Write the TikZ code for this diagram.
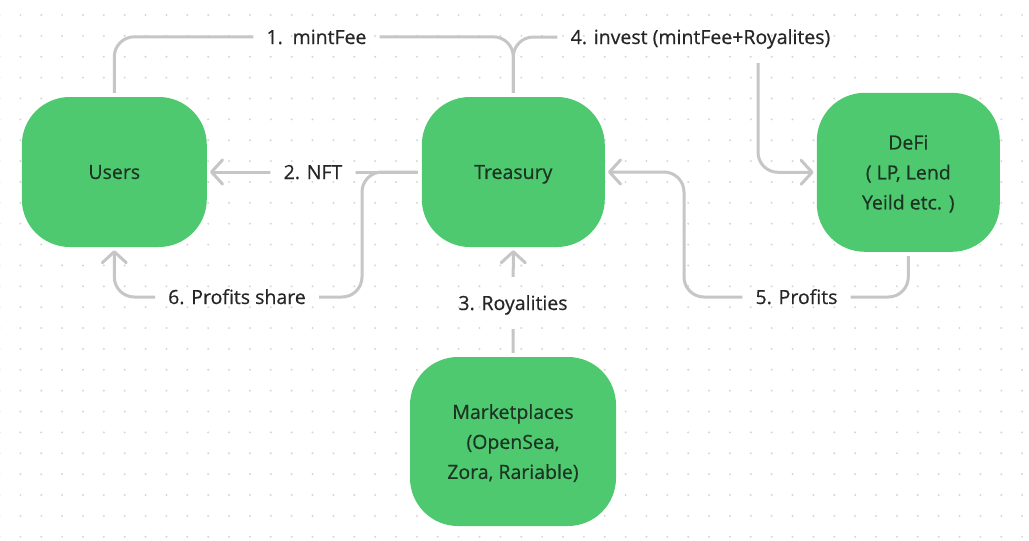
\documentclass[tikz,border=0pt]{standalone}
\usepackage{fontspec}
\setmainfont{Open Sans}
\newfontfamily\medfont{Open Sans}[FakeBold=0.5]
\usetikzlibrary{arrows.meta}
\definecolor{nodegreen}{HTML}{4FC970}
\definecolor{nodetext}{HTML}{1C3422}
\definecolor{lblc}{HTML}{262626}
\definecolor{linec}{HTML}{C6C6C6}
\definecolor{dotc}{HTML}{D6D6D6}
\tikzset{
  box/.style={fill=nodegreen, rounded corners=48pt, text=nodetext, align=center,
    font=\medfont\fontsize{19.5}{30}\selectfont, inner sep=0pt, text depth=0pt},
  lbl/.style={text=lblc, font=\medfont\fontsize{19.5}{24}\selectfont, inner xsep=13pt,
    inner ysep=17pt, text height=16pt, text depth=2pt},
  conn/.style={draw=linec, line width=3pt, rounded corners=20pt},
  tip/.style={-{Straight Barb[length=11pt,width=24pt,round]}},
}
\begin{document}
\begin{tikzpicture}[x=1pt,y=-1pt]
\useasboundingbox (0,0) rectangle (1029,541);
\fill[white] (0,0) rectangle (1029,541);
% dot grid
\foreach \i in {0,...,49}{
  \foreach \j in {0,...,25}{
    \fill[dotc] ({-0.5+20.87*\i},{15+20.87*\j}) circle (1.1pt);
  }
}
% nodes
\node[box, minimum width=185pt, minimum height=150pt] (users) at (114.3,172) {Users};
\node[box, minimum width=183pt, minimum height=150pt] (treasury) at (513.3,172) {Treasury};
\node[box, minimum width=183pt, minimum height=159pt] (defi) at (908.3,172.3) {DeFi\\( LP, Lend\\Yeild etc. )};
\node[box, minimum width=206pt, minimum height=169pt] (market) at (513,441.5) {Marketplaces\\(OpenSea,\\Zora, Rariable)};
% labels
\node[lbl] (l1) at (316.5,37) {1.\hspace{0.5em}mintFee};
\node[lbl] (l2) at (313,172) {2. NFT};
\node[lbl] (l3) at (513,303) {3. Royalities};
\node[lbl] (l4) at (700.5,37) {4. invest (mintFee+Royalites)};
\node[lbl] (l5) at (796.5,297) {5. Profits};
\node[lbl] (l6) at (237,297) {6. Profits share};
% connectors, broken where labels sit
\begin{scope}
\clip (-20,-20) rectangle (1050,560)
  (l1.south west) rectangle (l1.north east)
  (l2.south west) rectangle (l2.north east)
  (l3.south west) rectangle (l3.north east)
  (l4.south west) rectangle (l4.north east)
  (l5.south west) rectangle (l5.north east)
  (l6.south west) rectangle (l6.north east);
\draw[conn] ([yshift=4pt]users.north) |- ([yshift=60pt]treasury.north) -- ([yshift=4pt]treasury.north);
\draw[conn,tip] ([yshift=4pt]treasury.north) |- (758,37) |- ([xshift=-3pt]defi.west);
\draw[conn,tip] ([xshift=-4pt]treasury.west) -- ([xshift=3pt]users.east);
\draw[conn,tip] ([xshift=-4pt]treasury.west) -| (362,297) -| ([yshift=-3pt]users.south);
\draw[conn,tip] ([yshift=-4pt]defi.south) |- (684,297) |- ([xshift=3pt]treasury.east);
\draw[conn,tip] ([yshift=4pt]market.north) -- ([yshift=-3pt]treasury.south);
\end{scope}
\end{tikzpicture}
\end{document}
